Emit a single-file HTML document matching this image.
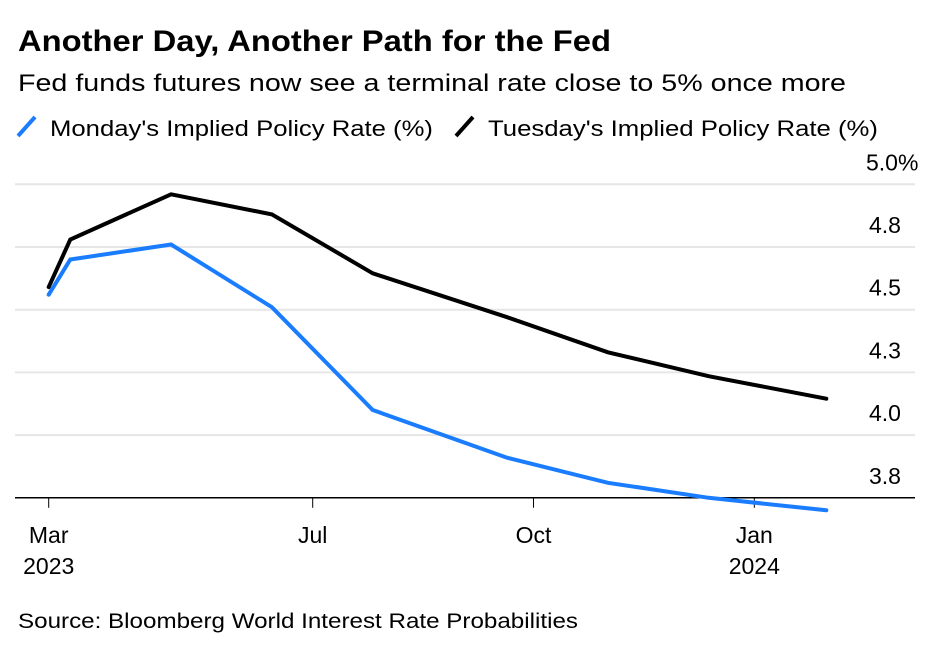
<!DOCTYPE html>
<html><head><meta charset="utf-8"><style>
html,body{margin:0;padding:0;background:#fff;}
svg{display:block;font-family:"Liberation Sans",sans-serif;}
</style></head><body>
<svg id="chart" width="946" height="654" viewBox="0 0 946 654">
<text x="18" y="51" font-size="29.5" font-weight="bold" fill="#000" textLength="593" lengthAdjust="spacingAndGlyphs">Another Day, Another Path for the Fed</text>
<text x="18" y="91" font-size="24" fill="#000" textLength="828" lengthAdjust="spacingAndGlyphs">Fed funds futures now see a terminal rate close to 5% once more</text>
<g>
<g>
<line x1="18" y1="136" x2="35" y2="117" stroke="#1a7dff" stroke-width="4"/>
<text x="50" y="136" font-size="22" fill="#000" textLength="383" lengthAdjust="spacingAndGlyphs">Monday's Implied Policy Rate (%)</text>
</g>
<g>
<line x1="456" y1="136" x2="473" y2="117" stroke="#000" stroke-width="4"/>
<text x="488" y="136" font-size="22" fill="#000" textLength="390" lengthAdjust="spacingAndGlyphs">Tuesday's Implied Policy Rate (%)</text>
</g>
</g>
<g id="grid"></g>
<g id="yaxis"></g>
<g id="xaxis"></g>
<g id="series"></g>
<text x="18" y="628" font-size="21" fill="#000" textLength="560" lengthAdjust="spacingAndGlyphs">Source: Bloomberg World Interest Rate Probabilities</text>
</svg>
<script>
const dates = ["2023-03-13","2023-03-22","2023-05-03","2023-06-14","2023-07-26","2023-09-20","2023-11-01","2023-12-13","2024-01-31"];
const mondayRates = [4.56,4.70,4.76,4.51,4.10,3.91,3.81,3.75,3.70];
const tuesdayRates = [4.59,4.78,4.96,4.88,4.645,4.47,4.33,4.235,4.145];
const yTicks = [5.0,4.75,4.5,4.25,4.0,3.75];
const yTickLabels = ["5.0%","4.8","4.5","4.3","4.0","3.8"];
const xTickDates = ["2023-03-13","2023-07-01","2023-10-01","2024-01-01"];
const xTickMonths = ["Mar","Jul","Oct","Jan"];
const xTickYears = ["2023","","","2024"];

const NS="http://www.w3.org/2000/svg";
const ref=Date.parse("2023-03-22");
function xScale(d){return 70.3+(Date.parse(d)-ref)/86400000*2.40;}
function yScale(v){return 184.3+(5-v)/0.25*62.7;}
function mk(tag,attrs,parent){const e=document.createElementNS(NS,tag);for(const k in attrs)e.setAttribute(k,attrs[k]);parent.appendChild(e);return e;}

const grid=document.getElementById('grid'),yax=document.getElementById('yaxis'),xax=document.getElementById('xaxis'),ser=document.getElementById('series');
yTicks.forEach((t,i)=>{
  const y=yScale(t);
  if(i<yTicks.length-1){
    const l=mk('line',{x1:15,x2:915,y1:y,y2:y,stroke:'#e6e6e6','stroke-width':2},grid);
    
    
  }
  const tx=mk('text',{x:i===0?866:869,y:y-14,'font-size':23,fill:'#000'},yax);
  tx.textContent=yTickLabels[i];
  
  
});
const base=yScale(3.75);
const ax=mk('line',{x1:15,x2:915,y1:base,y2:base,stroke:'#000','stroke-width':1.5},xax);


xTickDates.forEach((d,i)=>{
  const x=xScale(d);
  const t=mk('line',{x1:x,x2:x,y1:base,y2:base+10,stroke:'#000','stroke-width':1},xax);
  
  
  const m=mk('text',{x:x,y:543,'font-size':23,fill:'#000','text-anchor':'middle'},xax);
  m.textContent=xTickMonths[i];
  
  
  if(xTickYears[i]){
    const yr=mk('text',{x:x,y:574,'font-size':23,fill:'#000','text-anchor':'middle'},xax);
    yr.textContent=xTickYears[i];
    
    
  }
});
function line(vals,color,name){
  const pts=vals.map((v,i)=>xScale(dates[i]).toFixed(1)+","+yScale(v).toFixed(1)).join(" ");
  const p=mk('polyline',{points:pts,fill:'none',stroke:color,'stroke-width':4,'stroke-linejoin':'miter','stroke-linecap':'round'},ser);
  
  
}
line(mondayRates,'#1a7dff','monday-rate-line');
line(tuesdayRates,'#000','tuesday-rate-line');
</script>
</body></html>
